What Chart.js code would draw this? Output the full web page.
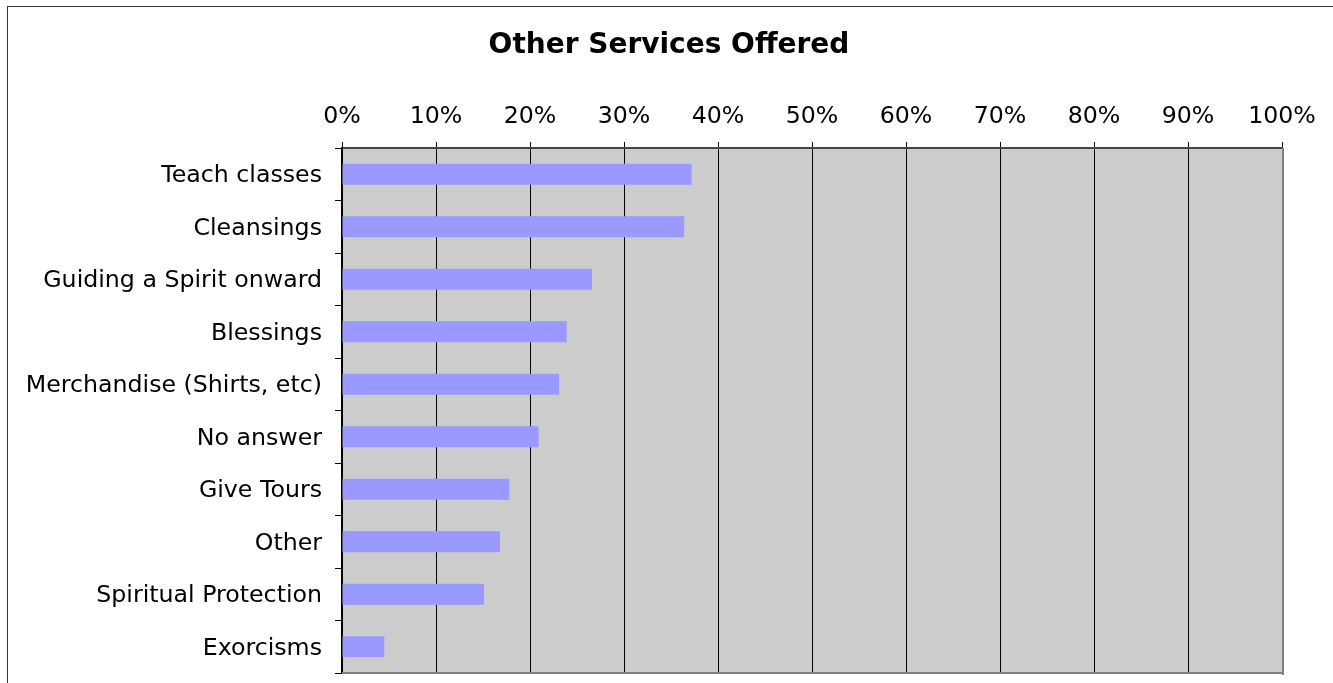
<!DOCTYPE html>
<html>
<head>
<meta charset="utf-8">
<script src="https://cdn.jsdelivr.net/npm/chart.js@4/dist/chart.umd.min.js"></script>
<style>
    html, body { margin: 0; padding: 0; background: #fff; }
    #wrap { position: relative; width: 1333px; height: 683px; overflow: hidden; }
    #frame { position: absolute; left: 7px; top: 6px; right: -5px; bottom: -5px; border-left: 1px solid #333; border-top: 1px solid #333; }
    canvas { position: absolute; left: 0; top: 0; }
</style>
</head>
<body>
<div id="wrap">
    <div id="frame"></div>
    <canvas id="chart" width="1333" height="683"></canvas>
</div>
<script>
// Données (pourcentages)
const categories = [
    'Teach classes',
    'Cleansings',
    'Guiding a Spirit onward',
    'Blessings',
    'Merchandise (Shirts, etc)',
    'No answer',
    'Give Tours',
    'Other',
    'Spiritual Protection',
    'Exorcisms'
];
const shares = [37.2, 36.4, 26.6, 23.9, 23.1, 20.9, 17.8, 16.8, 15.1, 4.5];
const tickValues = [0, 10, 20, 30, 40, 50, 60, 70, 80, 90, 100];

const FONT = 'DejaVu Sans, Verdana, sans-serif';

// Fond gris de la zone de tracé + bordure grise droite/bas
const plotArea = {
    id: 'plotArea',
    beforeDraw(chart) {
        const { ctx, chartArea: a } = chart;
        ctx.save();
        ctx.fillStyle = '#cccccc';
        ctx.fillRect(a.left, a.top, a.right - a.left, a.bottom - a.top);
        ctx.restore();
    },
    afterDraw(chart) {
        const { ctx, chartArea: a } = chart;
        ctx.save();
        ctx.fillStyle = '#808080';
        ctx.fillRect(a.right, a.top, 2, a.bottom - a.top + 2);
        ctx.fillRect(a.left, a.bottom - 1, a.right - a.left + 2, 2);
        ctx.restore();
    }
};

new Chart(document.getElementById('chart'), {
    type: 'bar',
    data: {
        labels: categories,
        datasets: [{
            data: shares,
            backgroundColor: '#9999ff',
            barPercentage: 0.4,
            categoryPercentage: 1.0
        }]
    },
    options: {
        indexAxis: 'y',
        responsive: false,
        animation: false,
        layout: { padding: { left: 5, right: 0, top: 0, bottom: 10 } },
        plugins: {
            legend: { display: false },
            tooltip: { enabled: false },
            title: {
                display: true,
                text: 'Other Services Offered',
                color: '#000',
                font: { family: FONT, size: 28, weight: 'bold', lineHeight: 1.2 },
                padding: { top: 29, bottom: 0 }
            }
        },
        scales: {
            x: {
                position: 'top',
                min: 0,
                max: 100,
                afterBuildTicks(scale) {
                    scale.ticks = tickValues.map(v => ({ value: v }));
                },
                afterFit(scale) {
                    scale.height = 85.4;
                    scale.paddingLeft = 0;
                    scale.paddingRight = 51;
                },
                ticks: {
                    color: '#000',
                    padding: 11,
                    maxRotation: 0,
                    font: { family: FONT, size: 23.7 },
                    callback: v => v + '%'
                },
                grid: { color: '#000', lineWidth: 1, tickLength: 6, drawTicks: true },
                border: { color: '#444', width: 2 }
            },
            y: {
                afterFit(scale) {
                    scale.width = 337;
                    scale.paddingTop = 0;
                    scale.paddingBottom = 0;
                },
                ticks: {
                    color: '#000',
                    padding: 13,
                    labelOffset: 2,
                    font: { family: FONT, size: 23.7 }
                },
                grid: { offset: true, drawOnChartArea: false, color: '#000', tickColor: '#000', tickLength: 7 },
                border: { color: '#000', width: 2 }
            }
        }
    },
    plugins: [plotArea]
});
</script>
</body>
</html>
